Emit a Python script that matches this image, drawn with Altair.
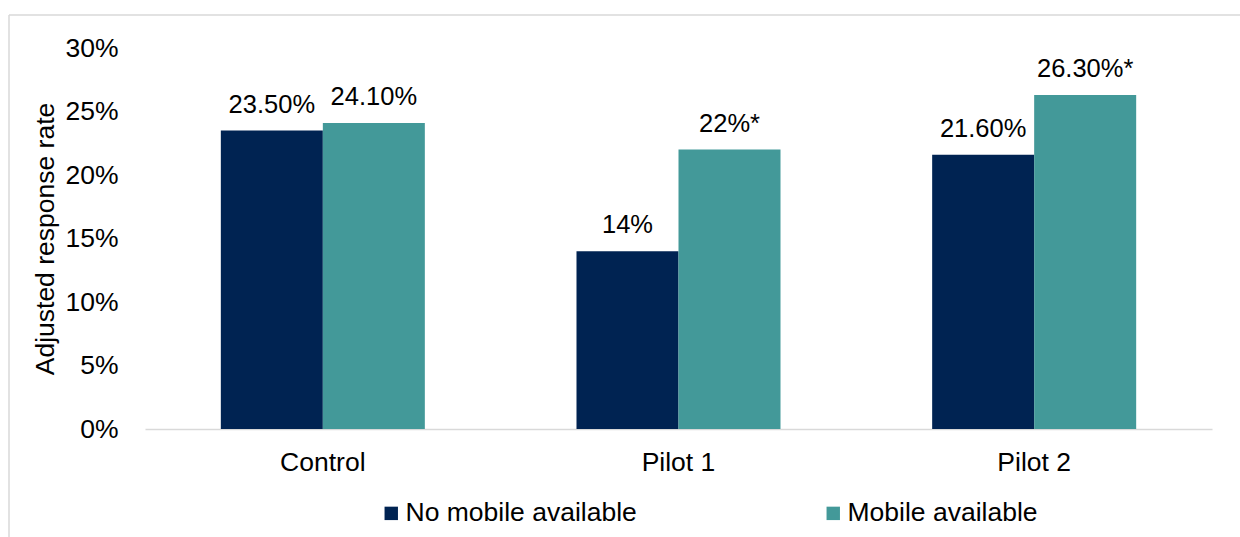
import altair as alt
import pandas as pd

categories = ["Control", "Pilot 1", "Pilot 2"]
series = ["No mobile available", "Mobile available"]
no_mobile = [23.5, 14.0, 21.6]
mobile = [24.1, 22.0, 26.3]
no_mobile_labels = ["23.50%", "14%", "21.60%"]
mobile_labels = ["24.10%", "22%*", "26.30%*"]
colors = ["#002352", "#439999"]

rows = []
for i, c in enumerate(categories):
    rows.append({"category": c, "series": series[0], "value": no_mobile[i] / 100, "label": no_mobile_labels[i]})
    rows.append({"category": c, "series": series[1], "value": mobile[i] / 100, "label": mobile_labels[i]})
df = pd.DataFrame(rows)

FONT = "Liberation Sans"

xenc = alt.X("category:N", sort=categories,
             scale=alt.Scale(paddingInner=0.4264, paddingOuter=0.2132),
             axis=alt.Axis(title=None, labelAngle=0, labelFontSize=26.5, labelFont=FONT,
                           labelColor="#000000", ticks=False, tickSize=0, labelPadding=20,
                           domainColor="#D9D9D9", domainWidth=1.5, grid=False))
yenc = alt.Y("value:Q", scale=alt.Scale(domain=[0, 0.3], nice=False),
             axis=alt.Axis(title="Adjusted response rate", format=".0%", values=[0, 0.05, 0.1, 0.15, 0.2, 0.25, 0.3],
                           labelFontSize=26.5, labelFont=FONT, labelColor="#000000",
                           ticks=False, tickSize=0, domain=False, grid=False, labelPadding=27,
                           titleFontSize=26.5, titleFont=FONT, titleFontWeight="normal", titleColor="#000000",
                           titleAngle=270, titleX=-100, titleY=190.5, titleAlign="center", titleBaseline="middle"))

base = alt.Chart(df)

bars = base.mark_bar().encode(
    x=xenc,
    xOffset=alt.XOffset("series:N", sort=series, scale=alt.Scale(paddingInner=0, paddingOuter=0)),
    y=yenc,
    color=alt.Color("series:N", sort=series, scale=alt.Scale(domain=series, range=colors),
                    legend=alt.Legend(title=None, orient="none", legendX=233, legendY=452,
                                      direction="horizontal", symbolType="square", symbolSize=180,
                                      symbolStrokeWidth=0, labelFontSize=26.5, labelFont=FONT,
                                      labelColor="#000000", labelOffset=1, columnPadding=183,
                                      labelLimit=400)),
)

texts = base.mark_text(fontSize=25.5, font=FONT, color="#000000", baseline="alphabetic", dy=-18).encode(
    x=alt.X("category:N", sort=categories),
    xOffset=alt.XOffset("series:N", sort=series),
    y=alt.Y("value:Q"),
    text="label:N",
)

frame_df = pd.DataFrame({"k": [0]})
top_line = alt.Chart(frame_df).mark_rule(color="#D9D9D9", strokeWidth=1.5).encode(
    x=alt.value(-136), x2=alt.value(1200), y=alt.value(-33))
left_line = alt.Chart(frame_df).mark_rule(color="#D9D9D9", strokeWidth=1.5).encode(
    x=alt.value(-136), y=alt.value(-33), y2=alt.value(500))

chart = alt.layer(top_line, left_line, bars, texts).properties(
    width=1067, height=381,
    autosize=alt.AutoSizeParams(type="none"),
    padding={"left": 145, "top": 48, "right": 28, "bottom": 108},
    background="#FFFFFF",
).configure_view(stroke=None)

chart.save("out.html", embed_options={"renderer": "svg", "actions": False})
